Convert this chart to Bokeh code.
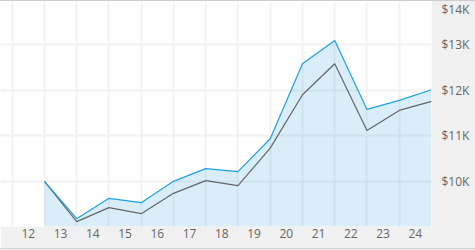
from bokeh.plotting import figure
from bokeh.models import FixedTicker, Range1d, LinearAxis
from bokeh.embed import file_html
from bokeh.resources import INLINE

# ---- data ----
years = [12, 13, 14, 15, 16, 17, 18, 19, 20, 21, 22, 23, 24]
year_ends = [12.5, 13.5, 14.5, 15.5, 16.5, 17.5, 18.5, 19.5, 20.5, 21.5, 22.5, 23.5, 24.5]
fund = [10000, 9180, 9626, 9532, 10000, 10279, 10213, 10938, 12587, 13099, 11582, 11780, 12015]
benchmark = [10000, 9114, 9422, 9290, 9736, 10015, 9905, 10732, 11905, 12587, 11121, 11560, 11758]
y_ticks = [10000, 11000, 12000, 13000, 14000]
y_tick_labels = ["$10K", "$11K", "$12K", "$13K", "$14K"]

FONT = "Open Sans"
TXT = "#666666"
PANEL = "#f1f1f1"

x0, x1 = 11.137, 24.5
y0, y1 = 9007, 13956

p = figure(width=475, height=250, output_backend="svg", toolbar_location=None,
           x_range=Range1d(x0, x1), y_range=Range1d(y0, y1),
           x_axis_location=None, y_axis_location=None,
           min_border_left=0, min_border_right=44, min_border_top=1, min_border_bottom=24)
p.border_fill_color = PANEL
p.background_fill_color = "white"
p.outline_line_color = None

# grids
p.xgrid.ticker = FixedTicker(ticks=[y - 0.5 for y in years] + [24.5])
p.ygrid.ticker = FixedTicker(ticks=y_ticks)
for g in (p.xgrid, p.ygrid):
    g.grid_line_color = "#f2f2f2"
    g.grid_line_width = 2

# area + lines
p.varea(x=year_ends, y1=[y0 - 100] * len(year_ends), y2=fund,
        fill_color="#3fa9e0", fill_alpha=0.2)
p.line(year_ends, benchmark, line_color="#666666", line_width=1.2)
p.line(year_ends, fund, line_color="#1ea0e2", line_width=1.2)

# axes
xa = LinearAxis(ticker=FixedTicker(ticks=years),
                major_label_overrides={y: str(y) for y in years})

# the top label ($14K) would sit above the frame; keep it just inside, as the original does
label_pos = [min(t, y1 - 164) for t in y_ticks]
ya = LinearAxis(ticker=FixedTicker(ticks=label_pos),
                major_label_overrides=dict(zip(label_pos, y_tick_labels)))
for ax in (xa, ya):
    ax.axis_line_color = None
    ax.major_tick_line_color = None
    ax.minor_tick_line_color = None
    ax.major_tick_out = 0
    ax.major_tick_in = 0
    ax.major_label_text_font = FONT
    ax.major_label_text_font_size = "12px"
    ax.major_label_text_color = TXT
xa.major_label_standoff = 2
ya.major_label_standoff = 10
p.add_layout(xa, "below")
p.add_layout(ya, "right")

# thin border lines at top and bottom of the whole chart
p.stylesheets = [
    ":host { position: relative; }"
    ":host::before { content: ''; position: absolute; left: 0; right: 0; top: 0;"
    " height: 1px; background: #cdcdcd; z-index: 10; pointer-events: none; }"
    ":host::after { content: ''; position: absolute; left: 0; right: 0; top: 248px;"
    " height: 1px; background: #d2d2d2; z-index: 10; pointer-events: none; }"
]

open("out.html", "w").write(file_html(p, INLINE))
